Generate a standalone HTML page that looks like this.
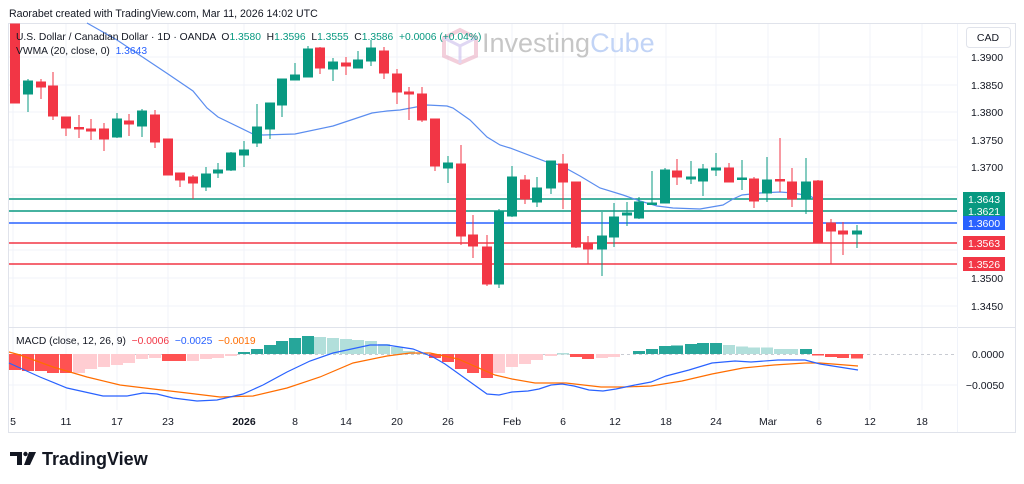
<!DOCTYPE html>
<html><head><meta charset="utf-8"><style>
html,body{margin:0;padding:0;background:#fff;width:1024px;height:484px;overflow:hidden}
svg{display:block;font-family:"Liberation Sans",sans-serif}
text{white-space:pre}
</style></head><body>
<svg width="1024" height="484" viewBox="0 0 1024 484" xmlns="http://www.w3.org/2000/svg">
<text x="9" y="17" font-size="10.6" fill="#131722">Raorabet created with TradingView.com, Mar 11, 2026 14:02 UTC</text>
<rect x="8.5" y="23.5" width="1007" height="409" fill="#fff" stroke="#e0e3eb"/>
<g stroke="#f0f3fa" stroke-width="1">
<line x1="13" y1="24" x2="13" y2="410"/><line x1="66" y1="24" x2="66" y2="410"/><line x1="117" y1="24" x2="117" y2="410"/><line x1="168" y1="24" x2="168" y2="410"/><line x1="244" y1="24" x2="244" y2="410"/><line x1="295" y1="24" x2="295" y2="410"/><line x1="346" y1="24" x2="346" y2="410"/><line x1="397" y1="24" x2="397" y2="410"/><line x1="448" y1="24" x2="448" y2="410"/><line x1="512" y1="24" x2="512" y2="410"/><line x1="563" y1="24" x2="563" y2="410"/><line x1="615" y1="24" x2="615" y2="410"/><line x1="666" y1="24" x2="666" y2="410"/><line x1="716" y1="24" x2="716" y2="410"/><line x1="768" y1="24" x2="768" y2="410"/><line x1="819" y1="24" x2="819" y2="410"/><line x1="870" y1="24" x2="870" y2="410"/><line x1="922" y1="24" x2="922" y2="410"/>
<line x1="9" y1="57" x2="957" y2="57"/><line x1="9" y1="85" x2="957" y2="85"/><line x1="9" y1="112" x2="957" y2="112"/><line x1="9" y1="140" x2="957" y2="140"/><line x1="9" y1="167" x2="957" y2="167"/><line x1="9" y1="195" x2="957" y2="195"/><line x1="9" y1="250" x2="957" y2="250"/><line x1="9" y1="278" x2="957" y2="278"/><line x1="9" y1="306" x2="957" y2="306"/>
<line x1="9" y1="385" x2="957" y2="385"/>
</g>
<line x1="9" y1="327.5" x2="1015" y2="327.5" stroke="#e0e3eb"/>
<line x1="957.5" y1="24" x2="957.5" y2="432" stroke="#f0f3fa"/>
<g opacity="0.5">
<path d="M460 30 L476 38 L476 56 L460 63 L444 56 L444 38 Z" fill="none" stroke="#e8a0b8" stroke-width="4"/>
<path d="M444 38 L460 46 L476 38 M460 46 L460 63" fill="none" stroke="#c0b0e8" stroke-width="3"/>
</g>
<text x="482" y="52" font-size="27" fill="#bdbdbd" opacity="0.85">Investing<tspan fill="#b8cdf5">Cube</tspan></text>
<line x1="9" y1="199" x2="957" y2="199" stroke="#089981" stroke-width="1.5"/>
<line x1="9" y1="211" x2="957" y2="211" stroke="#089981" stroke-width="1.5"/>
<line x1="9" y1="223" x2="957" y2="223" stroke="#2962ff" stroke-width="1.5"/>
<line x1="9" y1="243" x2="957" y2="243" stroke="#f23645" stroke-width="1.5"/>
<line x1="9" y1="264" x2="957" y2="264" stroke="#f23645" stroke-width="1.5"/>
<polyline fill="none" stroke="#5b8def" stroke-width="1.2" points="87,23 117,40 153,64 168,74 193,91 207,108 218,117 253,134 263,135 295,134 333,126 372,113 387,111 400,110 427,105 447,106 453,108 470,120 487,137 500,145 510,148 547,162 560,165 580,176 600,188 623,195 640,201 657,206 673,208 700,209 723,205 733,199 742,195 760,193 780,192 793,193 810,196 817,200"/>
<g stroke-width="1">
<g stroke="#f23645" fill="#f23645">
<rect x="10.5" y="24" width="9" height="79"/>
<line x1="41" y1="79" x2="41" y2="99"/><rect x="36.5" y="82" width="9" height="5"/>
<line x1="53" y1="72" x2="53" y2="120"/><rect x="48.5" y="86" width="9" height="30"/>
<line x1="66" y1="117" x2="66" y2="136"/><rect x="61.5" y="117" width="9" height="11"/>
<line x1="79" y1="115" x2="79" y2="138"/><rect x="74.5" y="127.5" width="9" height="1.5"/>
<line x1="91" y1="119" x2="91" y2="140"/><rect x="86.5" y="129" width="9" height="2"/>
<line x1="104" y1="123" x2="104" y2="151"/><rect x="99.5" y="129" width="9" height="10"/>
<line x1="129" y1="114" x2="129" y2="136"/><rect x="124.5" y="121" width="9" height="3"/>
<line x1="155" y1="110" x2="155" y2="148"/><rect x="150.5" y="115" width="9" height="27"/>
<line x1="168" y1="139" x2="168" y2="175"/><rect x="163.5" y="139" width="9" height="36"/>
<line x1="180" y1="173" x2="180" y2="187"/><rect x="175.5" y="173" width="9" height="7"/>
<line x1="193" y1="175" x2="193" y2="199"/><rect x="188.5" y="177" width="9" height="6"/>
<line x1="320" y1="47" x2="320" y2="74"/><rect x="315.5" y="48" width="9" height="20"/>
<line x1="346" y1="57" x2="346" y2="75"/><rect x="341.5" y="63" width="9" height="3"/>
<line x1="384" y1="47" x2="384" y2="79"/><rect x="379.5" y="51" width="9" height="22"/>
<line x1="397" y1="69" x2="397" y2="104"/><rect x="392.5" y="74" width="9" height="18"/>
<line x1="409" y1="87" x2="409" y2="120"/><rect x="404.5" y="92" width="9" height="2"/>
<line x1="422" y1="87" x2="422" y2="122"/><rect x="417.5" y="94" width="9" height="26"/>
<line x1="435" y1="119" x2="435" y2="171"/><rect x="430.5" y="119" width="9" height="47"/>
<line x1="461" y1="145" x2="461" y2="245"/><rect x="456.5" y="164" width="9" height="72"/>
<line x1="473" y1="215" x2="473" y2="258"/><rect x="468.5" y="235" width="9" height="11"/>
<line x1="487" y1="235" x2="487" y2="286"/><rect x="482.5" y="247" width="9" height="37"/>
<line x1="525" y1="175" x2="525" y2="204"/><rect x="520.5" y="180" width="9" height="19"/>
<line x1="563" y1="154" x2="563" y2="209"/><rect x="558.5" y="164" width="9" height="18"/>
<line x1="576" y1="182" x2="576" y2="248"/><rect x="571.5" y="182" width="9" height="65"/>
<line x1="588" y1="236" x2="588" y2="264"/><rect x="583.5" y="244" width="9" height="5"/>
<line x1="677" y1="159" x2="677" y2="185"/><rect x="672.5" y="171" width="9" height="6"/>
<line x1="729" y1="163" x2="729" y2="182"/><rect x="724.5" y="168" width="9" height="14"/>
<line x1="754" y1="177" x2="754" y2="208"/><rect x="749.5" y="179" width="9" height="22"/>
<line x1="780" y1="138" x2="780" y2="192"/><rect x="775.5" y="179.5" width="9" height="1.5"/>
<line x1="792" y1="168" x2="792" y2="207"/><rect x="787.5" y="182" width="9" height="17"/>
<line x1="818" y1="180" x2="818" y2="243"/><rect x="813.5" y="181" width="9" height="61"/>
<line x1="831" y1="219" x2="831" y2="264"/><rect x="826.5" y="223" width="9" height="8"/>
<line x1="843" y1="222" x2="843" y2="255"/><rect x="838.5" y="231" width="9" height="3"/>
</g>
<g stroke="#089981" fill="#089981">
<line x1="28" y1="79" x2="28" y2="112"/><rect x="23.5" y="81" width="9" height="13"/>
<line x1="117" y1="113" x2="117" y2="138"/><rect x="112.5" y="119" width="9" height="18"/>
<line x1="142" y1="109" x2="142" y2="137"/><rect x="137.5" y="111" width="9" height="15"/>
<line x1="206" y1="167" x2="206" y2="191"/><rect x="201.5" y="174" width="9" height="13"/>
<line x1="218" y1="163" x2="218" y2="178"/><rect x="213.5" y="170" width="9" height="3"/>
<line x1="231" y1="152" x2="231" y2="171"/><rect x="226.5" y="153" width="9" height="17"/>
<line x1="244" y1="141" x2="244" y2="167"/><rect x="239.5" y="150" width="9" height="5"/>
<line x1="257" y1="104" x2="257" y2="147"/><rect x="252.5" y="127" width="9" height="16"/>
<line x1="270" y1="103" x2="270" y2="139"/><rect x="265.5" y="103" width="9" height="26"/>
<line x1="282" y1="79" x2="282" y2="117"/><rect x="277.5" y="79" width="9" height="26"/>
<line x1="295" y1="63" x2="295" y2="80"/><rect x="290.5" y="75" width="9" height="5"/>
<line x1="308" y1="46" x2="308" y2="77"/><rect x="303.5" y="49" width="9" height="28"/>
<line x1="333" y1="58" x2="333" y2="81"/><rect x="328.5" y="62" width="9" height="7"/>
<line x1="358" y1="51" x2="358" y2="68"/><rect x="353.5" y="60" width="9" height="8"/>
<line x1="371" y1="40" x2="371" y2="66"/><rect x="366.5" y="48" width="9" height="13"/>
<line x1="448" y1="156" x2="448" y2="183"/><rect x="443.5" y="163" width="9" height="5"/>
<line x1="499" y1="209" x2="499" y2="288"/><rect x="494.5" y="211" width="9" height="73"/>
<line x1="512" y1="166" x2="512" y2="217"/><rect x="507.5" y="177" width="9" height="39"/>
<line x1="537" y1="177" x2="537" y2="207"/><rect x="532.5" y="188" width="9" height="14"/>
<line x1="551" y1="161" x2="551" y2="194"/><rect x="546.5" y="161" width="9" height="27"/>
<line x1="602" y1="212" x2="602" y2="276"/><rect x="597.5" y="236" width="9" height="13"/>
<line x1="614" y1="203" x2="614" y2="247"/><rect x="609.5" y="217" width="9" height="20"/>
<line x1="627" y1="202" x2="627" y2="226"/><rect x="622.5" y="213" width="9" height="2"/>
<line x1="639" y1="197" x2="639" y2="219"/><rect x="634.5" y="202" width="9" height="16"/>
<line x1="652" y1="171" x2="652" y2="204"/><rect x="647.5" y="203" width="9" height="1.5"/>
<line x1="665" y1="168" x2="665" y2="203"/><rect x="660.5" y="170" width="9" height="33"/>
<line x1="691" y1="161" x2="691" y2="184"/><rect x="686.5" y="177" width="9" height="2"/>
<line x1="703" y1="164" x2="703" y2="196"/><rect x="698.5" y="169" width="9" height="12"/>
<line x1="716" y1="153" x2="716" y2="176"/><rect x="711.5" y="168" width="9" height="2"/>
<line x1="742" y1="160" x2="742" y2="190"/><rect x="737.5" y="178" width="9" height="1.5"/>
<line x1="767" y1="157" x2="767" y2="202"/><rect x="762.5" y="180" width="9" height="13"/>
<line x1="806" y1="158" x2="806" y2="214"/><rect x="801.5" y="182" width="9" height="17"/>
<line x1="857" y1="225" x2="857" y2="248"/><rect x="852.5" y="231" width="9" height="3"/>
</g>
</g>
<text x="16" y="40" font-size="10.3" fill="#131722">U.S. Dollar / Canadian Dollar · 1D · OANDA  O<tspan fill="#089981">1.3580</tspan>  H<tspan fill="#089981">1.3596</tspan>  L<tspan fill="#089981">1.3555</tspan>  C<tspan fill="#089981">1.3586</tspan>  <tspan fill="#089981">+0.0006 (+0.04%)</tspan></text>
<text x="16" y="54" font-size="10.3" fill="#131722">VWMA (20, close, 0)  <tspan fill="#2962ff">1.3643</tspan></text>
<rect x="966.5" y="27.5" width="44" height="20" rx="3" fill="#fff" stroke="#e0e3eb"/>
<text x="988" y="41" font-size="10.5" fill="#131722" text-anchor="middle">CAD</text>
<g font-size="10.5" fill="#131722" text-anchor="middle">
<text x="987" y="61">1.3900</text><text x="987" y="89">1.3850</text><text x="987" y="116">1.3800</text><text x="987" y="144">1.3750</text><text x="987" y="171">1.3700</text><text x="987" y="282">1.3500</text><text x="987" y="310">1.3450</text>
</g>
<g font-size="10.5" fill="#fff" text-anchor="middle">
<rect x="963" y="192" width="42" height="26" fill="#089981"/>
<text x="984" y="203">1.3643</text><text x="984" y="215">1.3621</text>
<rect x="963" y="216" width="42" height="14" fill="#2962ff"/><text x="984" y="227">1.3600</text>
<rect x="963" y="236" width="42" height="14" fill="#f23645"/><text x="984" y="247">1.3563</text>
<rect x="963" y="257" width="42" height="14" fill="#f23645"/><text x="984" y="268">1.3526</text>
</g>
<line x1="9" y1="354.5" x2="957" y2="354.5" stroke="#c8cbd2" stroke-dasharray="3,3"/>
<g>
<g fill="#ff5252">
<rect x="9" y="354" width="12" height="16"/><rect x="22" y="354" width="12" height="17"/><rect x="35" y="354" width="12" height="17"/><rect x="47" y="354" width="12" height="19"/><rect x="60" y="354" width="12" height="19"/>
<rect x="162" y="354" width="12" height="7"/><rect x="174" y="354" width="12" height="7"/>
<rect x="429" y="354" width="12" height="4"/><rect x="442" y="354" width="12" height="8"/><rect x="455" y="354" width="12" height="15"/><rect x="467" y="354" width="12" height="19"/><rect x="481" y="354" width="12" height="24"/>
<rect x="570" y="354" width="12" height="3"/><rect x="582" y="354" width="12" height="5"/>
<rect x="812" y="354" width="12" height="1.5"/><rect x="825" y="354" width="12" height="3"/><rect x="837" y="354" width="12" height="4"/><rect x="851" y="354" width="12" height="4.5"/>
</g>
<g fill="#ffcdd2">
<rect x="73" y="354" width="12" height="19"/><rect x="85" y="354" width="12" height="15"/><rect x="98" y="354" width="12" height="13"/><rect x="111" y="354" width="12" height="11"/><rect x="123" y="354" width="12" height="9"/><rect x="136" y="354" width="12" height="5"/><rect x="149" y="354" width="12" height="4"/>
<rect x="187" y="354" width="12" height="7"/><rect x="200" y="354" width="12" height="5"/><rect x="212" y="354" width="12" height="4"/><rect x="225" y="354" width="12" height="2"/>
<rect x="493" y="354" width="12" height="19"/><rect x="506" y="354" width="12" height="13"/><rect x="519" y="354" width="12" height="10"/><rect x="531" y="354" width="12" height="6"/><rect x="545" y="354" width="12" height="2"/>
<rect x="596" y="354" width="12" height="4"/><rect x="608" y="354" width="12" height="3"/>
</g>
<g fill="#26a69a">
<rect x="238" y="352" width="12" height="2"/><rect x="251" y="349" width="12" height="5"/><rect x="264" y="345" width="12" height="9"/><rect x="276" y="341" width="12" height="13"/><rect x="289" y="338" width="12" height="16"/><rect x="302" y="336" width="12" height="18"/>
<rect x="633" y="351" width="12" height="3"/><rect x="646" y="349" width="12" height="5"/><rect x="659" y="346" width="12" height="8"/><rect x="671" y="345.5" width="12" height="8.5"/><rect x="685" y="344" width="12" height="10"/><rect x="697" y="343" width="12" height="11"/><rect x="710" y="343" width="12" height="11"/>
<rect x="800" y="349" width="12" height="5"/>
</g>
<g fill="#b2dfdb">
<rect x="314" y="337" width="12" height="17"/><rect x="327" y="338" width="12" height="16"/><rect x="340" y="339" width="12" height="15"/><rect x="352" y="340" width="12" height="14"/><rect x="365" y="341" width="12" height="13"/><rect x="378" y="344" width="12" height="10"/><rect x="391" y="347" width="12" height="7"/><rect x="403" y="351" width="12" height="3"/><rect x="416" y="353" width="12" height="1"/>
<rect x="557" y="353" width="12" height="1.5"/>
<rect x="723" y="345" width="12" height="9"/><rect x="736" y="346.5" width="12" height="7.5"/><rect x="748" y="347.5" width="12" height="6.5"/><rect x="761" y="347.5" width="12" height="6.5"/><rect x="774" y="349" width="12" height="5"/><rect x="786" y="349" width="12" height="5"/>
</g>
</g>
<polyline fill="none" stroke="#ff6d00" stroke-width="1.2" points="9,352 20,355 53,367 87,377 120,385 153,389 187,393 220,397 253,396 287,388 320,377 353,363 387,356 410,353 430,353 458,359 495,375 512,379 535,383 566,383 601,387 624,387 651,386 682,381 712,374 743,368 774,365 805,363 820,363 858,366"/>
<polyline fill="none" stroke="#2962ff" stroke-width="1.2" points="9,363 40,377 67,388 103,396 127,396 143,393 157,394 173,398 197,401 217,400 243,394 263,385 287,372 310,361 333,353 370,345 387,345 413,349 433,357 445,364 487,394 499,395 512,392 528,391 539,389 551,385 562,384 574,386 589,390 603,391 616,389 635,385 651,382 666,376 689,370 712,363 735,361 751,362 778,360 805,360 820,364 839,367 858,370"/>
<text x="16" y="344" font-size="10.3" fill="#131722">MACD (close, 12, 26, 9)  <tspan fill="#f23645">−0.0006</tspan>  <tspan fill="#2962ff">−0.0025</tspan>  <tspan fill="#ff6d00">−0.0019</tspan></text>
<g font-size="10.5" fill="#131722" text-anchor="middle">
<text x="988" y="358">0.0000</text><text x="985" y="389">−0.0050</text>
</g>
<g font-size="10.5" fill="#131722" text-anchor="middle">
<text x="13" y="425">5</text><text x="66" y="425">11</text><text x="117" y="425">17</text><text x="168" y="425">23</text><text x="244" y="425" font-weight="bold">2026</text><text x="295" y="425">8</text><text x="346" y="425">14</text><text x="397" y="425">20</text><text x="448" y="425">26</text><text x="512" y="425">Feb</text><text x="563" y="425">6</text><text x="615" y="425">12</text><text x="666" y="425">18</text><text x="716" y="425">24</text><text x="768" y="425">Mar</text><text x="819" y="425">6</text><text x="870" y="425">12</text><text x="922" y="425">18</text>
</g>
<g fill="#131722">
<path d="M10 452 H22 V465 H17 V456 H10 Z"/>
<circle cx="25.5" cy="454" r="2.2"/>
<path d="M29 452 H36 L30 465 H24 Z"/>
</g>
<text x="42" y="465" font-size="18" font-weight="bold" fill="#131722">TradingView</text>
</svg>
</body></html>
